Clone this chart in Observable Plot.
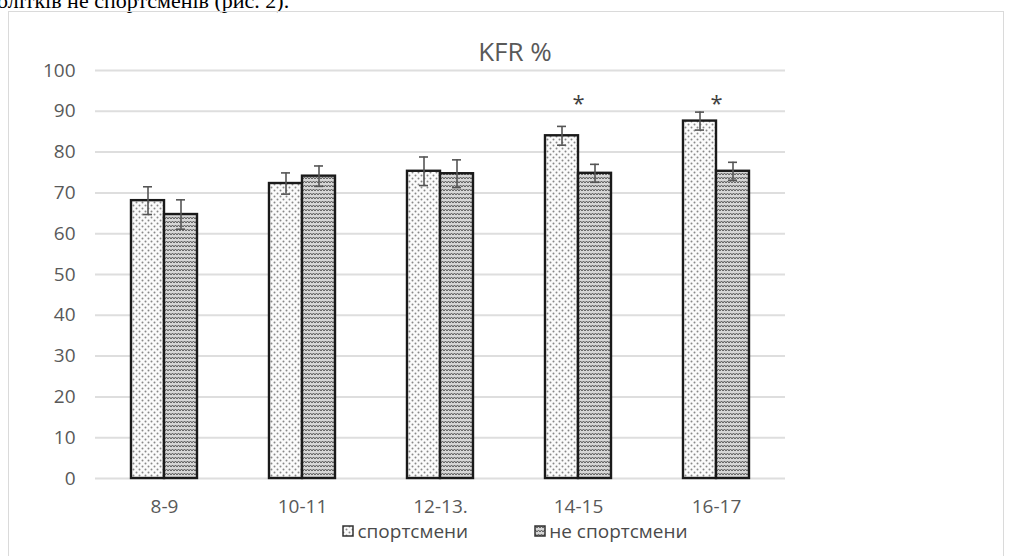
<!DOCTYPE html>
<html>
<head>
<meta charset="utf-8">
<script src="https://cdn.jsdelivr.net/npm/d3@7"></script>
<script src="https://cdn.jsdelivr.net/npm/@observablehq/plot@0.6"></script>
<style>
  html, body { margin: 0; padding: 0; background: #fff; width: 1010px; height: 556px; overflow: hidden; position: relative; }
  #doctext { position: absolute; left: -3px; top: -10px; font-family: "Liberation Serif", serif; font-size: 22px; line-height: 22px; color: #000; white-space: nowrap; }
  #frame { position: absolute; left: 8px; top: 11px; width: 996px; height: 600px; border: 1.5px solid #dadada; box-sizing: border-box; }
  #chart { position: absolute; left: 0; top: 0; }
  #title { position: absolute; left: 415px; width: 200px; top: 38px; text-align: center; font-family: "Open Sans", sans-serif; font-size: 26px; line-height: 26px; color: #595959; }
  #legend { position: absolute; left: 0; width: 1030px; top: 521px; display: flex; justify-content: center; gap: 66px; font-family: "Open Sans", sans-serif; font-size: 19px; line-height: 20px; color: #4a4a4a; }
  #legend .item { display: flex; align-items: center; }
  #legend svg { margin-right: 3px; }
</style>
</head>
<body>
<div id="doctext">олітків не спортсменів (рис. 2).</div>
<div id="frame"></div>
<svg width="0" height="0" style="position:absolute">
  <defs>
    <pattern id="dots" width="6" height="6" patternUnits="userSpaceOnUse">
      <rect width="6" height="6" fill="#fbfbfb"></rect>
      <circle cx="1.5" cy="1.5" r="1" fill="#888"></circle>
      <circle cx="4.5" cy="4.5" r="1" fill="#888"></circle>
    </pattern>
    <pattern id="waves" width="6" height="4" patternUnits="userSpaceOnUse">
      <rect width="6" height="4" fill="#d6d6d6"></rect>
      <path d="M0,3 L1.5,1 L3,3 L4.5,1 L6,3" fill="none" stroke="#5a5a5a" stroke-width="1"></path>
    </pattern>
  </defs>
</svg>
<div id="chart"></div>
<div id="title">KFR %</div>
<div id="legend"></div>
<script>
// ---- data ----
const ages = ["8-9", "10-11", "12-13.", "14-15", "16-17"];
const groups = ["спортсмени", "не спортсмени"];
const sportMean = [68.1, 72.3, 75.3, 84.0, 87.6];
const sportErr  = [3.4, 2.6, 3.5, 2.3, 2.2];
const nonMean   = [64.7, 74.1, 74.7, 74.8, 75.3];
const nonErr    = [3.6, 2.5, 3.4, 2.2, 2.2];
const starAges  = ["14-15", "16-17"];
const yTicks    = [0, 10, 20, 30, 40, 50, 60, 70, 80, 90, 100];

const sportRows = ages.map((a, i) => ({age: a, group: groups[0], mean: sportMean[i], err: sportErr[i]}));
const nonRows   = ages.map((a, i) => ({age: a, group: groups[1], mean: nonMean[i], err: nonErr[i]}));
const allRows = sportRows.concat(nonRows);
const stars = starAges.map(a => ({age: a}));

const plot = Plot.plot({
  width: 1010,
  height: 556,
  marginLeft: 95,
  marginRight: 225,
  marginTop: 70,
  marginBottom: 78,
  style: {fontFamily: "Open Sans, sans-serif", fontSize: "19px", color: "#595959", background: "transparent"},
  fx: {domain: ages, padding: 0, label: null},
  x: {domain: groups, paddingInner: 0, paddingOuter: 1.05, axis: null},
  y: {domain: [0, 100]},
  marks: [
    Plot.gridY(yTicks, {stroke: "#dedede", strokeWidth: 2, strokeOpacity: 1}),
    Plot.axisY(yTicks, {tickSize: 0, tickPadding: 20, label: null}),
    Plot.axisFx({anchor: "bottom", tickSize: 0, tickPadding: 21, label: null}),
    Plot.barY(sportRows, {fx: "age", x: "group", y: "mean", fill: "url(#dots)", stroke: "#1a1a1a", strokeWidth: 2.4}),
    Plot.barY(nonRows, {fx: "age", x: "group", y: "mean", fill: "url(#waves)", stroke: "#1a1a1a", strokeWidth: 2.4}),
    Plot.ruleX(allRows, {fx: "age", x: "group", y1: d => d.mean - d.err, y2: d => d.mean + d.err, stroke: "#555", strokeWidth: 1.6}),
    Plot.tickY(allRows, {fx: "age", x: "group", y: d => d.mean + d.err, insetLeft: 12, insetRight: 12, stroke: "#555", strokeWidth: 1.6}),
    Plot.tickY(allRows, {fx: "age", x: "group", y: d => d.mean - d.err, insetLeft: 12, insetRight: 12, stroke: "#555", strokeWidth: 1.6}),
    Plot.text(stars, {fx: "age", y: 93, text: () => "*", fontSize: 22, fill: "#404040", dy: 5})
  ]
});
document.getElementById("chart").appendChild(plot);

// legend
const legend = d3.select("#legend");
const fills = ["url(#dots)", "url(#waves)"];
groups.forEach((g, i) => {
  const item = legend.append("div").attr("class", "item");
  const s = item.append("svg").attr("width", 12).attr("height", 12);
  s.append("rect").attr("x", 1).attr("y", 1).attr("width", 10).attr("height", 10)
    .attr("fill", fills[i]).attr("stroke", "#333").attr("stroke-width", 1.5);
  item.append("span").text(g);
});
</script>
</body>
</html>
